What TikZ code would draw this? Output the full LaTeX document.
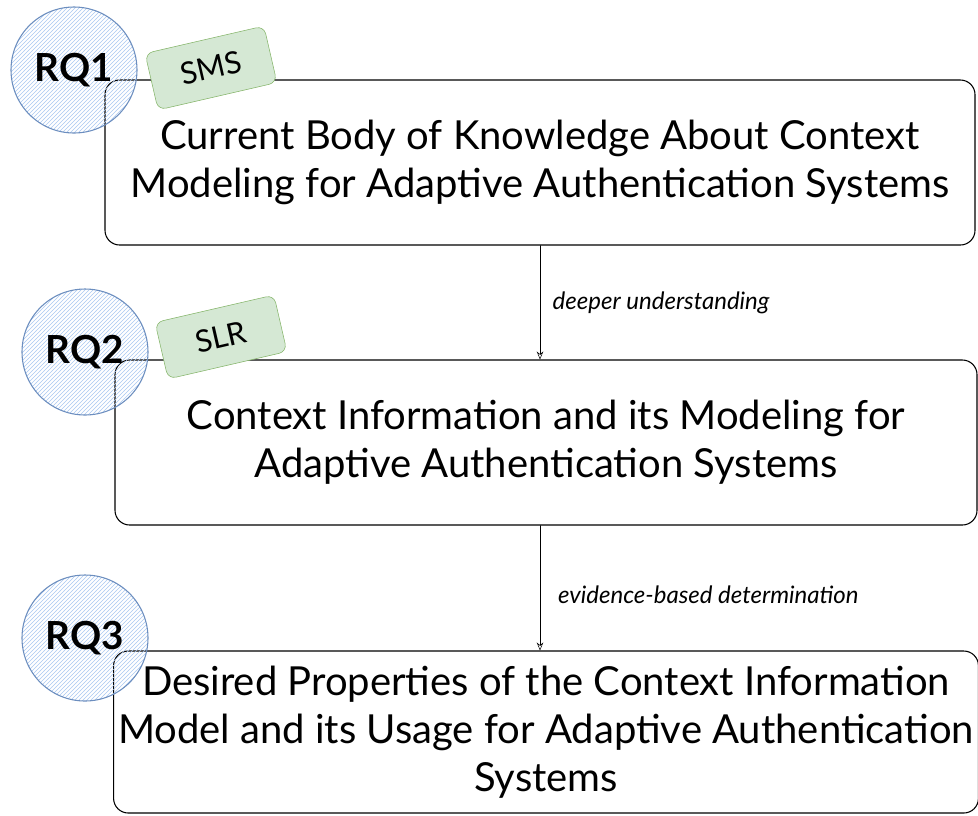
\documentclass[tikz,border=0pt]{standalone}
\usepackage{fontspec}
\setmainfont{Lato}
\definecolor{rqline}{RGB}{108,142,191}
\definecolor{rqfill}{RGB}{170,200,240}
\definecolor{tagline}{RGB}{130,179,102}
\definecolor{tagfill}{RGB}{213,232,212}
\usetikzlibrary{patterns,arrows.meta}

\begin{document}
\begin{tikzpicture}[x=0.75pt,y=-0.75pt,line cap=round]
	\tikzstyle{qbox}=[draw,thick,rounded corners=11pt,minimum width=646.5pt,minimum height=123.75pt,align=center,font=\fontsize{30}{36}\selectfont];
	\tikzstyle{rq}=[circle,draw=rqline,thick,pattern=north east lines,pattern color=rqfill,minimum size=94.5pt,inner sep=0pt,font=\fontsize{29}{30}\selectfont\bfseries];
	\tikzstyle{tag}=[draw=tagline,fill=tagfill,rounded corners=6pt,minimum width=91.5pt,minimum height=43.5pt,rotate=13,font=\fontsize{23}{24}\selectfont];
	\tikzstyle{flow}=[thin,-{Stealth[length=6pt,width=5pt,open]}];
	\tikzstyle{flowlabel}=[anchor=west,font=\fontsize{18}{20}\selectfont\itshape];
\useasboundingbox (0,0) rectangle (978,815);
%<--------------------------------------------------------------------------->%

	%% boxes
	\node[qbox,minimum width=652.5pt] (body) at (540,162.5) {Current Body of Knowledge About Context\\Modeling for Adaptive Authentication Systems};
	\node[qbox] (info) at (546,442.5) {Context Information and its Modeling for\\Adaptive Authentication Systems};
	\node[qbox,minimum height=121.5pt] (props) at (546,732) {Desired Properties of the Context Information\\Model and its Usage for Adaptive Authentication\\Systems};
	%% research questions
	\node[rq] (rqone) at (74,70) {RQ1};
	\node[rq] (rqtwo) at (85,352) {RQ2};
	\node[rq] (rqthree) at (85,638) {RQ3};
	%% methods
	\node[tag] (sms) at (211,68) {SMS};
	\node[tag] (slr) at (221,337) {SLR};
	%% flow
	\draw[flow] (body.south) -- (body.south |- info.north) node[flowlabel,pos=0.5,xshift=6pt] {deeper understanding};
	\draw[flow] (body.south |- info.south) -- (body.south |- props.north) node[flowlabel,pos=0.55,xshift=10pt] {evidence-based determination};
\end{tikzpicture}
\end{document}
